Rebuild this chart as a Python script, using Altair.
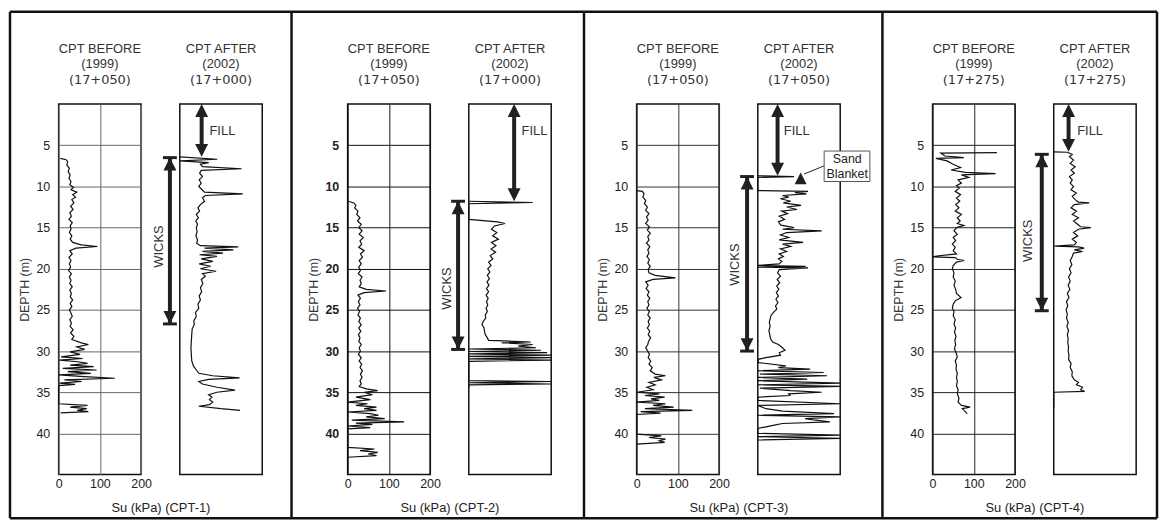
import altair as alt
import pandas as pd

FONT = "Liberation Sans"
INK = "#231f20"

# ---------------- text ----------------
PANEL_KIND = ["CPT BEFORE", "CPT AFTER"]
PANEL_YEAR = ["(1999)", "(2002)"]
BEFORE_STATION = ["(17+050)", "(17+050)", "(17+050)", "(17+275)"]
AFTER_STATION = ["(17+000)", "(17+000)", "(17+050)", "(17+275)"]
GROUP_LABEL = ["Su (kPa) (CPT-1)", "Su (kPa) (CPT-2)", "Su (kPa) (CPT-3)", "Su (kPa) (CPT-4)"]
DEPTH_TICKS = [5, 10, 15, 20, 25, 30, 35, 40]
SU_TICKS = [0, 100, 200]

# ---------------- CPT traces: (depth m, Su kPa) ----------------
CPT1_BEFORE = [(6.6,4),(6.75,18),(7.0,22),(7.4,20),(7.8,26),(8.2,23),(8.6,28),(9.0,25),(9.4,30),(9.8,27),
    (10.1,36),(10.4,30),(10.7,44),(11.0,34),(11.3,41),(11.6,32),(12.0,37),(12.4,29),(12.8,35),(13.2,27),
    (13.6,31),(14.0,25),(14.4,33),(14.8,28),(15.2,30),(15.6,26),(16.0,32),(16.4,28),(16.8,34),(17.1,55),
    (17.3,94),(17.5,42),(17.8,27),(18.2,33),(18.6,25),(19.0,30),(19.4,26),(19.8,29),(20.2,24),(20.6,31),
    (21.0,26),(21.4,30),(21.8,27),(22.2,33),(22.6,27),(23.0,31),(23.4,28),(23.8,34),(24.2,28),(24.6,32),
    (25.0,26),(25.4,30),(25.8,33),(26.2,27),(26.6,31),(27.0,28),(27.4,35),(27.8,29),(28.2,37),(28.6,32),
    (29.0,55),(29.2,72),(29.5,44),(29.8,63),(30.1,28),(30.4,52),(30.7,6),(30.9,58),(31.1,2),(31.3,47),
    (31.5,70),(31.7,28),(31.9,85),(32.1,10),(32.3,92),(32.5,22),(32.7,78),(32.9,0),(33.1,62),(33.3,136),
    (33.5,14),(33.7,56),(33.9,2),(34.05,40),(34.2,0),(36.4,0),(36.6,70),(36.8,28),(37.0,68),(37.2,45),
    (37.35,72),(37.5,5)]

CPT1_AFTER = [(6.4,0),(6.7,91),(6.9,0),(7.1,70),(7.3,50),(7.6,55),(7.85,150),(8.05,52),(8.4,48),(8.8,55),
    (9.2,47),(9.6,52),(10.0,46),(10.4,54),(10.7,60),(10.9,153),(11.1,62),(11.4,55),(11.8,60),(12.2,50),
    (12.6,44),(13.0,48),(13.4,40),(13.8,45),(14.2,39),(14.6,43),(15.0,40),(15.5,42),(16.0,39),(16.5,43),
    (16.9,41),(17.2,50),(17.35,142),(17.5,60),(17.7,130),(17.9,55),(18.1,105),(18.3,48),(18.5,90),(18.8,52),
    (19.1,80),(19.4,47),(19.7,75),(20.0,50),(20.3,88),(20.6,55),(20.9,62),(21.3,52),(21.8,56),(22.3,50),
    (22.8,53),(23.3,47),(23.8,50),(24.3,44),(24.8,46),(25.3,38),(25.8,40),(26.3,34),(26.8,35),(27.3,30),
    (28.0,29),(28.8,28),(29.6,27),(30.4,28),(31.2,29),(31.8,33),(32.3,40),(32.7,46),(33.0,80),(33.25,145),
    (33.45,70),(33.7,46),(34.0,55),(34.4,90),(34.75,134),(35.0,90),(35.3,70),(35.6,78),(35.9,72),(36.2,80),
    (36.5,72),(36.7,46),(37.0,100),(37.2,146)]

CPT2_BEFORE = [(11.8,2),(12.0,15),(12.3,20),(12.6,17),(13.0,25),(13.4,22),(13.8,30),(14.2,24),(14.6,33),
    (15.0,27),(15.4,35),(15.8,28),(16.2,38),(16.6,30),(17.0,34),(17.4,27),(17.8,40),(18.2,31),(18.6,36),
    (19.0,28),(19.4,33),(19.8,27),(20.2,31),(20.6,26),(21.0,35),(21.4,30),(21.8,33),(22.2,28),(22.5,45),
    (22.7,93),(22.9,40),(23.2,25),(23.6,31),(24.0,26),(24.4,30),(24.8,24),(25.2,29),(25.6,25),(26.0,31),
    (26.4,27),(26.8,33),(27.2,27),(27.6,32),(28.0,26),(28.4,30),(28.8,27),(29.2,33),(29.6,28),(30.0,31),
    (30.4,26),(30.8,33),(31.2,28),(31.6,34),(32.0,30),(32.4,36),(32.8,31),(33.2,35),(33.6,30),(34.0,33),
    (34.3,28),(34.6,45),(34.8,73),(35.0,40),(35.3,60),(35.6,20),(35.9,55),(36.2,0),(36.4,48),(36.6,20),
    (36.8,70),(37.0,40),(37.2,70),(37.4,0),(37.6,55),(37.8,75),(38.0,45),(38.2,90),(38.4,10),(38.6,137),
    (38.75,20),(38.9,60),(39.1,0),(39.3,55),(39.45,0),(41.7,0),(41.9,65),(42.1,30),(42.3,73),(42.5,50),
    (42.7,70),(42.9,0)]

CPT2_AFTER = [(11.8,0),(11.95,155),(12.1,0),(14.0,0),(14.3,70),(14.5,88),(14.8,62),(15.2,55),(15.6,68),
    (16.0,58),(16.4,72),(16.8,55),(17.2,66),(17.6,54),(18.0,65),(18.4,52),(18.8,58),(19.2,48),(19.6,54),
    (20.0,46),(20.4,51),(20.8,45),(21.2,50),(21.6,44),(22.0,49),(22.4,43),(22.8,48),(23.2,42),(23.6,47),
    (24.0,43),(24.4,46),(24.8,42),(25.2,45),(25.6,40),(26.0,41),(26.4,35),(26.8,32),(27.2,37),(27.6,38),
    (28.0,40),(28.4,45),(28.7,48),(28.9,150),(29.0,80),(29.2,155),(29.4,120),(29.6,163),(29.75,0),
    (29.9,175),(30.05,0),(30.2,190),(30.35,0),(30.5,200),(30.65,0),(30.8,200),(30.95,0),(31.1,200),
    (31.25,0),(31.4,0),(33.6,0),(33.7,200),(33.85,0),(34.0,200),(34.1,0),(34.5,0)]

CPT3_BEFORE = [(10.5,0),(10.6,14),(10.9,18),(11.3,15),(11.7,22),(12.1,19),(12.5,26),(12.9,22),(13.3,30),
    (13.7,24),(14.1,28),(14.5,22),(14.9,31),(15.3,26),(15.7,33),(16.1,27),(16.5,30),(16.9,24),(17.3,32),
    (17.7,27),(18.1,30),(18.5,25),(18.9,31),(19.3,27),(19.7,33),(20.1,28),(20.5,30),(20.8,45),(21.1,94),
    (21.3,40),(21.6,22),(22.0,28),(22.4,23),(22.8,30),(23.2,26),(23.6,32),(24.0,27),(24.4,30),(24.8,25),
    (25.2,31),(25.6,27),(26.0,33),(26.4,28),(26.8,31),(27.2,26),(27.6,32),(28.0,28),(28.4,34),(28.8,29),
    (29.2,27),(29.6,22),(30.0,27),(30.4,31),(30.8,28),(31.2,34),(31.6,30),(32.0,38),(32.4,33),(32.8,45),
    (33.0,70),(33.2,42),(33.5,60),(33.8,30),(34.1,45),(34.4,25),(34.7,40),(35.0,0),(35.2,55),(35.4,20),
    (35.6,68),(35.8,35),(36.0,55),(36.2,0),(36.4,70),(36.6,40),(36.8,90),(37.0,20),(37.2,135),(37.35,10),
    (37.55,58),(37.7,0),(40.1,0),(40.3,60),(40.5,30),(40.7,70),(40.9,55),(41.1,68),(41.3,0)]

CPT3_AFTER = [(8.7,0),(8.8,88),(8.9,0),(10.5,0),(10.6,122),(10.75,90),(10.9,118),(11.1,60),(11.3,75),
    (11.5,55),(11.8,80),(12.0,62),(12.3,105),(12.5,70),(12.8,95),(13.0,58),(13.3,72),(13.6,52),(14.0,65),
    (14.3,50),(14.7,56),(15.0,88),(15.2,60),(15.4,155),(15.6,70),(15.9,55),(16.2,75),(16.5,52),(16.8,110),
    (17.0,60),(17.3,80),(17.6,55),(17.9,70),(18.2,52),(18.5,62),(18.8,50),(19.1,58),(19.4,52),(19.6,0),
    (19.7,116),(19.8,0),(19.9,122),(20.1,52),(20.5,48),(20.9,55),(21.3,47),(21.7,53),(22.1,46),(22.5,51),
    (22.9,45),(23.3,50),(23.7,44),(24.1,49),(24.5,43),(24.9,46),(25.3,38),(25.7,32),(26.1,30),(26.5,28),
    (27.0,30),(27.5,27),(28.0,29),(28.5,31),(28.9,36),(29.2,50),(29.6,60),(29.9,66),(30.2,52),(30.5,55),
    (30.8,20),(31.0,0),(31.4,2),(31.8,68),(32.0,50),(32.2,127),(32.4,0),(32.6,160),(32.8,5),(33.0,168),
    (33.2,0),(33.4,120),(33.6,0),(33.9,200),(34.1,0),(34.3,200),(34.5,5),(34.8,80),(35.0,155),(35.2,75),
    (35.4,78),(35.6,0),(36.0,0),(36.4,200),(36.6,0),(37.0,20),(37.3,60),(37.6,185),(37.8,0),(38.0,200),
    (38.2,115),(38.4,140),(38.6,175),(38.8,60),(39.0,40),(39.2,20),(39.4,0),(40.0,0),(40.2,200),(40.4,0),
    (40.6,200),(40.8,0)]

CPT4_BEFORE = [(5.9,156),(5.95,20),(6.3,30),(6.5,76),(6.6,8),(6.9,35),(7.3,50),(7.7,68),(8.0,45),(8.3,80),
    (8.45,153),(8.6,70),(8.9,88),(9.2,62),(9.6,70),(9.9,58),(10.2,65),(10.6,55),(11.0,68),(11.4,58),
    (11.8,66),(12.2,56),(12.6,64),(13.0,55),(13.4,70),(13.8,60),(14.2,67),(14.5,60),(14.75,76),(15.0,58),
    (15.4,52),(15.8,60),(16.2,50),(16.6,56),(17.0,48),(17.4,55),(17.8,50),(18.2,58),(18.45,10),(18.55,0),
    (18.65,55),(18.85,60),(19.0,77),(19.2,58),(19.6,50),(20.0,48),(20.5,52),(21.0,50),(21.5,55),(22.0,52),
    (22.5,56),(23.0,58),(23.5,69),(23.9,55),(24.3,50),(24.8,48),(25.2,52),(25.7,50),(26.2,55),(26.7,52),
    (27.2,56),(27.7,53),(28.2,57),(28.7,54),(29.2,56),(29.7,53),(30.2,57),(30.7,60),(31.2,55),(31.7,58),
    (32.2,57),(32.7,60),(33.2,58),(33.7,60),(34.2,58),(34.7,62),(35.2,60),(35.7,64),(36.2,62),(36.6,70),
    (36.8,91),(37.0,72),(37.3,78),(37.6,84)]

CPT4_AFTER = [(5.8,0),(5.85,33),(6.1,45),(6.4,38),(6.8,48),(7.2,40),(7.6,52),(8.0,42),(8.4,50),(8.8,38),
    (9.2,45),(9.6,40),(10.0,48),(10.4,42),(10.8,55),(11.2,45),(11.6,52),(11.9,60),(12.0,86),(12.2,50),
    (12.6,42),(13.0,55),(13.4,45),(13.8,60),(14.2,48),(14.6,58),(14.9,65),(15.0,90),(15.2,60),(15.6,48),
    (16.0,58),(16.4,45),(16.8,55),(17.1,50),(17.25,2),(17.35,60),(17.5,74),(17.7,50),(17.9,70),(18.1,48),
    (18.5,45),(19.0,40),(19.5,44),(20.0,38),(20.5,42),(21.0,36),(21.5,40),(22.0,35),(22.5,39),(23.0,33),
    (23.5,37),(24.0,31),(24.5,34),(25.0,30),(25.5,33),(26.0,31),(26.5,35),(27.0,32),(27.5,36),(28.0,33),
    (28.5,35),(29.0,34),(29.5,36),(30.0,35),(30.5,37),(31.0,36),(31.5,42),(32.0,40),(32.5,45),(33.0,44),
    (33.5,50),(33.8,60),(34.1,55),(34.4,70),(34.7,65),(34.9,75),(35.0,0),(37.0,0)]

TRACES = [(CPT1_BEFORE, CPT1_AFTER), (CPT2_BEFORE, CPT2_AFTER),
          (CPT3_BEFORE, CPT3_AFTER), (CPT4_BEFORE, CPT4_AFTER)]

# ---------------- annotations (data units: Su kPa, depth m) ----------------
FILL_X = [53, 110, 48, 36]
FILL_BOTTOM = [6.4, 11.8, 8.7, 5.8]
FILL_LABEL_X = [72, 128, 63, 57]
FILL_LABEL_DEPTH = [3.3, 3.3, 3.3, 3.3]
WICKS_X = [-24, -26, -26, -29]
WICKS_TOP = [6.5, 11.8, 8.8, 6.1]
WICKS_BOTTOM = [26.7, 29.8, 30.0, 25.1]
WICKS_LABEL_X = [-50, -53, -55, -62]
WICKS_LABEL_DEPTH = [17.3, 22.4, 19.5, 16.6]

SAND_TEXT = ["Sand", "Blanket"]
SAND_TEXT_X = [217, 217]
SAND_TEXT_DEPTH = [6.7, 8.5]
SAND_BOX_X = [161, 272]
SAND_BOX_DEPTH = [5.7, 9.4]
SAND_POINTER_X = [112, 161]
SAND_POINTER_DEPTH = [8.5, 7.5]
SAND_MARK_X = [104]
SAND_MARK_TIP = [8.3]

# ---------------- layout ----------------
W, H = 83, 373
GAP = 39
SPACERS = [8, 8, 15]
PX_PER_M = H / 45.0
PX_PER_SU = W / 200.0
HEAD_PX = 13
HEAD_M = (HEAD_PX / 2) / PX_PER_M
BAR_HALF_SU = 7 / PX_PER_SU
GRID = ["#666666", "#111111", "#333333", "#222222"]
UP = "M0,-1L1,1L-1,1Z"
DOWN = "M0,1L1,-1L-1,-1Z"
LABEL_SIZE = 12.5

# outer frame and group dividers (pixels, relative to the first spacer's area)
FRAME_L, FRAME_R, FRAME_T, FRAME_B = -293, 862, -93, 417
DIVIDERS = [-9.5, 285, 585.5]

X_SCALE = alt.Scale(domain=[0, 200], nice=False, zero=False)
Y_SCALE = alt.Scale(domain=[0, 45], nice=False, zero=False, reverse=True)
ONE = pd.DataFrame({"a": [0]})


def X(field, axis=None):
    return alt.X(f"{field}:Q", scale=X_SCALE, axis=axis)


def Y(field, axis=None):
    return alt.Y(f"{field}:Q", scale=Y_SCALE, axis=axis)


def frame_layers():
    segs = [(FRAME_L, FRAME_R, FRAME_T, FRAME_T), (FRAME_L, FRAME_R, FRAME_B, FRAME_B),
            (FRAME_L, FRAME_L, FRAME_T, FRAME_B), (FRAME_R, FRAME_R, FRAME_T, FRAME_B)]
    segs += [(d, d, FRAME_T, FRAME_B) for d in DIVIDERS]
    out = []
    for x1, x2, y1, y2 in segs:
        out.append(alt.Chart(ONE).mark_rule(color="#111111", strokeWidth=2.5).encode(
            x=alt.value(x1), x2=alt.value(x2), y=alt.value(y1), y2=alt.value(y2)))
    return out


def panel(g, k):
    before = k == 0
    df = pd.DataFrame(TRACES[g][k], columns=["depth", "su"])
    df["i"] = range(len(df))
    if before:
        xaxis = alt.Axis(values=SU_TICKS, grid=True, gridColor=GRID[g], labelFlush=False,
                         labelPadding=3, labelFontSize=LABEL_SIZE,
                         title=GROUP_LABEL[g], titleX=W + GAP / 2, titleY=33,
                         titleAlign="center", titleBaseline="middle", titleFontSize=13,
                         titleFontWeight="normal", titleColor="#222222", titleLimit=300)
        yaxis = alt.Axis(values=DEPTH_TICKS, grid=True, gridColor=GRID[g], labelFlush=False,
                         labelPadding=9, labelFontSize=LABEL_SIZE,
                         labelFontWeight=("bold" if g == 1 else "normal"),
                         title="DEPTH (m)", titlePadding=4, titleFontSize=12.5,
                         titleFontWeight="normal", titleColor="#333333")
    else:
        xaxis = alt.Axis(values=SU_TICKS, grid=True, gridColor=GRID[g], labelFlush=False,
                         labelPadding=3, labelFontSize=LABEL_SIZE, title=None)
        yaxis = alt.Axis(values=DEPTH_TICKS, grid=True, gridColor=GRID[g], labels=False, title=None)

    line = alt.Chart(df).mark_line(color="#111111", strokeWidth=1.2).encode(
        x=X("su", xaxis), y=Y("depth", yaxis), order="i:Q")
    layers = [line]

    if not before:
        shafts = pd.DataFrame({"su": [FILL_X[g], WICKS_X[g]],
                               "d1": [HEAD_M, WICKS_TOP[g]],
                               "d2": [FILL_BOTTOM[g] - HEAD_M, WICKS_BOTTOM[g]]})
        layers.append(alt.Chart(shafts).mark_rule(color=INK, strokeWidth=4).encode(
            x=X("su"), y=Y("d1"), y2="d2:Q"))
        bars = pd.DataFrame({"x1": [WICKS_X[g] - BAR_HALF_SU] * 2,
                             "x2": [WICKS_X[g] + BAR_HALF_SU] * 2,
                             "d": [WICKS_TOP[g], WICKS_BOTTOM[g]]})
        layers.append(alt.Chart(bars).mark_rule(color=INK, strokeWidth=3).encode(
            x=X("x1"), x2="x2:Q", y=Y("d")))
        ups = pd.DataFrame({"su": [FILL_X[g], WICKS_X[g]],
                            "d": [0 + HEAD_M, WICKS_TOP[g] + HEAD_M]})
        downs = pd.DataFrame({"su": [FILL_X[g], WICKS_X[g]],
                              "d": [FILL_BOTTOM[g] - HEAD_M, WICKS_BOTTOM[g] - HEAD_M]})
        for dfh, shp in ((ups, UP), (downs, DOWN)):
            layers.append(alt.Chart(dfh).mark_point(shape=shp, size=HEAD_PX * HEAD_PX, filled=True,
                                                    opacity=1, color=INK, strokeWidth=0).encode(
                x=X("su"), y=Y("d")))
        fill_lab = pd.DataFrame({"su": [FILL_LABEL_X[g]], "d": [FILL_LABEL_DEPTH[g]], "t": ["FILL"]})
        layers.append(alt.Chart(fill_lab).mark_text(align="left", baseline="middle", fontSize=13,
                                                    font=FONT, color="#333333").encode(
            x=X("su"), y=Y("d"), text="t:N"))
        wl = pd.DataFrame({"su": [WICKS_LABEL_X[g]], "d": [WICKS_LABEL_DEPTH[g]], "t": ["WICKS"]})
        layers.append(alt.Chart(wl).mark_text(align="center", baseline="middle", angle=270,
                                              fontSize=13, font=FONT, color="#333333").encode(
            x=X("su"), y=Y("d"), text="t:N"))
        if g == 2:
            box = pd.DataFrame({"x1": [SAND_BOX_X[0]], "x2": [SAND_BOX_X[1]],
                                "d1": [SAND_BOX_DEPTH[0]], "d2": [SAND_BOX_DEPTH[1]]})
            ptr = pd.DataFrame({"x1": [SAND_POINTER_X[0]], "x2": [SAND_POINTER_X[1]],
                                "d1": [SAND_POINTER_DEPTH[0]], "d2": [SAND_POINTER_DEPTH[1]]})
            tri = pd.DataFrame({"su": SAND_MARK_X, "d": [SAND_MARK_TIP[0] + 6 / PX_PER_M]})
            st = pd.DataFrame({"su": SAND_TEXT_X, "d": SAND_TEXT_DEPTH, "t": SAND_TEXT})
            layers.append(alt.Chart(ptr).mark_rule(color="#222222", strokeWidth=1).encode(
                x=X("x1"), x2="x2:Q", y=Y("d1"), y2="d2:Q"))
            layers.append(alt.Chart(tri).mark_point(shape=UP, size=144, filled=True, opacity=1,
                                                    color=INK, strokeWidth=0).encode(
                x=X("su"), y=Y("d")))
            layers.append(alt.Chart(box).mark_rect(fill="white", stroke="#555555", strokeWidth=1).encode(
                x=X("x1"), x2="x2:Q", y=Y("d1"), y2="d2:Q"))
            layers.append(alt.Chart(st).mark_text(align="center", baseline="middle", fontSize=12.5,
                                                  font=FONT, color="#222222").encode(
                x=X("su"), y=Y("d"), text="t:N"))

    station = BEFORE_STATION[g] if before else AFTER_STATION[g]
    title = alt.TitleParams(text=[PANEL_KIND[k], PANEL_YEAR[k]], subtitle=station, frame="group",
                            anchor="middle", orient="top", offset=17, fontSize=13,
                            fontWeight="normal", font=FONT, color="#333333", lineHeight=15,
                            subtitleFont="DejaVu Sans", subtitleFontSize=13,
                            subtitleColor="#333333", subtitlePadding=3)
    return alt.layer(*layers).properties(width=W, height=H, title=title)


def spacer(w, with_frame=False):
    base = alt.Chart(ONE).mark_rule(opacity=0).encode(
        x=alt.value(0), y=alt.value(0), y2=alt.value(1))
    layers = [base] + (frame_layers() if with_frame else [])
    return alt.layer(*layers).properties(
        width=w, height=H, view=alt.ViewBackground(stroke="transparent"))


items = []
for g in range(4):
    items.append(panel(g, 0))
    items.append(panel(g, 1))
    if g < 3:
        items.append(spacer(SPACERS[g], with_frame=(g == 0)))

chart = alt.hconcat(*items, spacing=GAP, bounds="flush").properties(
    padding=0, background="white"
).configure_view(
    stroke="#111111", strokeWidth=1.5
).configure_axis(
    labelFont=FONT, labelFontSize=LABEL_SIZE, labelColor="#222222", titleFont=FONT,
    titleFontSize=13, ticks=False, domain=False, gridOpacity=1, gridWidth=1
)

chart.save("out.html", embed_options={"renderer": "svg", "actions": False})
